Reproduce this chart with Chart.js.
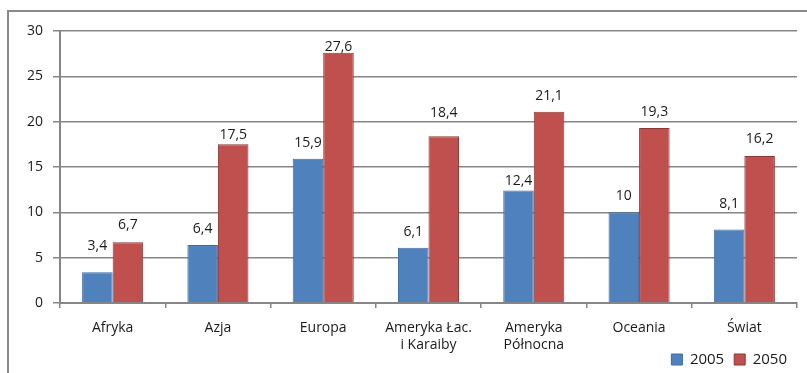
<!DOCTYPE html>
<html>
<head>
<meta charset="utf-8">
<script src="https://cdn.jsdelivr.net/npm/chart.js@4/dist/chart.umd.min.js"></script>
<style>
  html, body { margin: 0; padding: 0; background: #fff; }
  #wrap { width: 807px; height: 373px; }
</style>
</head>
<body>
<div id="wrap"><canvas id="barChart" width="807" height="373"></canvas></div>
<script>
const regions = ["Afryka", "Azja", "Europa", ["Ameryka Łac.", "i Karaiby"], ["Ameryka", "Północna"], "Oceania", "Świat"];
const values2005 = [3.4, 6.4, 15.9, 6.1, 12.4, 10, 8.1];
const values2050 = [6.7, 17.5, 27.6, 18.4, 21.1, 19.3, 16.2];
const yTicks = [0, 5, 10, 15, 20, 25, 30];

// odstęp (px) linii bazowej etykiety od wierzchołka słupka
const labelGap2005 = [22, 12, 12, 12, 6, 12, 22];
const labelGap2050 = [13, 5, 2, 19, 12, 12, 13];

const FONT = "'Open Sans', 'DejaVu Sans', sans-serif";
const GRID = "#868686";

// ramka wokół całego wykresu
const framePlugin = {
  id: "frame",
  beforeDraw(chart) {
    const ctx = chart.ctx;
    ctx.save();
    ctx.fillStyle = "#fff";
    ctx.fillRect(0, 0, chart.width, chart.height);
    ctx.strokeStyle = "#8a8a8a";
    ctx.lineWidth = 2;
    ctx.beginPath();
    ctx.moveTo(8, chart.height);
    ctx.lineTo(8, 11);
    ctx.lineTo(chart.width, 11);
    ctx.stroke();
    ctx.restore();
  }
};

// dwuwierszowe etykiety osi X nie mogą być przycinane do wysokości osi
const labelRoom = {
  id: "labelRoom",
  afterLayout(chart) {
    chart.scales.x.bottom = chart.height;
  }
};

// wartości nad słupkami (przecinek dziesiętny)
const valueLabels = {
  id: "valueLabels",
  afterDatasetsDraw(chart) {
    const ctx = chart.ctx;
    const gaps = [labelGap2005, labelGap2050];
    ctx.save();
    ctx.font = "14px " + FONT;
    ctx.fillStyle = "#1a1a1a";
    ctx.textAlign = "center";
    ctx.textBaseline = "alphabetic";
    chart.data.datasets.forEach((ds, i) => {
      chart.getDatasetMeta(i).data.forEach((bar, j) => {
        ctx.fillText(String(ds.data[j]).replace(".", ","), bar.x, bar.y - gaps[i][j]);
      });
    });
    ctx.restore();
  }
};

const ctx = document.getElementById("barChart").getContext("2d");
new Chart(ctx, {
  type: "bar",
  data: {
    labels: regions,
    datasets: [
      {
        label: "2005",
        data: values2005,
        backgroundColor: "#4f81bd",
        borderColor: "#3c6ca4",
        borderWidth: 1,
        borderSkipped: "bottom"
      },
      {
        label: "2050",
        data: values2050,
        backgroundColor: "#c0504d",
        borderColor: "#8c3836",
        borderWidth: 1,
        borderSkipped: "bottom"
      }
    ]
  },
  options: {
    responsive: false,
    animation: false,
    layout: { padding: { top: 31, right: 10, bottom: -4, left: 0 } },
    datasets: {
      bar: { categoryPercentage: 0.58, barPercentage: 1 }
    },
    scales: {
      x: {
        grid: {
          offset: true,
          drawOnChartArea: false,
          drawTicks: true,
          tickLength: 5,
          color: GRID,
          lineWidth: 1.5
        },
        border: { color: GRID, width: 2 },
        ticks: {
          padding: 12,
          color: "#1a1a1a",
          font: { family: FONT, size: 14 },
          maxRotation: 0,
          autoSkip: false
        },
        afterFit(scale) { scale.height = 39; }
      },
      y: {
        min: 0,
        max: 30,
        afterBuildTicks(scale) { scale.ticks = yTicks.map(v => ({ value: v })); },
        grid: {
          color: GRID,
          lineWidth: 1.5,
          tickLength: 7
        },
        border: { color: GRID, width: 2 },
        ticks: {
          padding: 10,
          color: "#1a1a1a",
          font: { family: FONT, size: 14 }
        },
        afterFit(scale) { scale.width = 60; }
      }
    },
    plugins: {
      legend: {
        position: "bottom",
        align: "end",
        labels: {
          boxWidth: 11,
          boxHeight: 11,
          padding: 10,
          color: "#1a1a1a",
          font: { family: FONT, size: 15 }
        }
      },
      tooltip: { enabled: false }
    }
  },
  plugins: [framePlugin, labelRoom, valueLabels]
});
</script>
</body>
</html>
